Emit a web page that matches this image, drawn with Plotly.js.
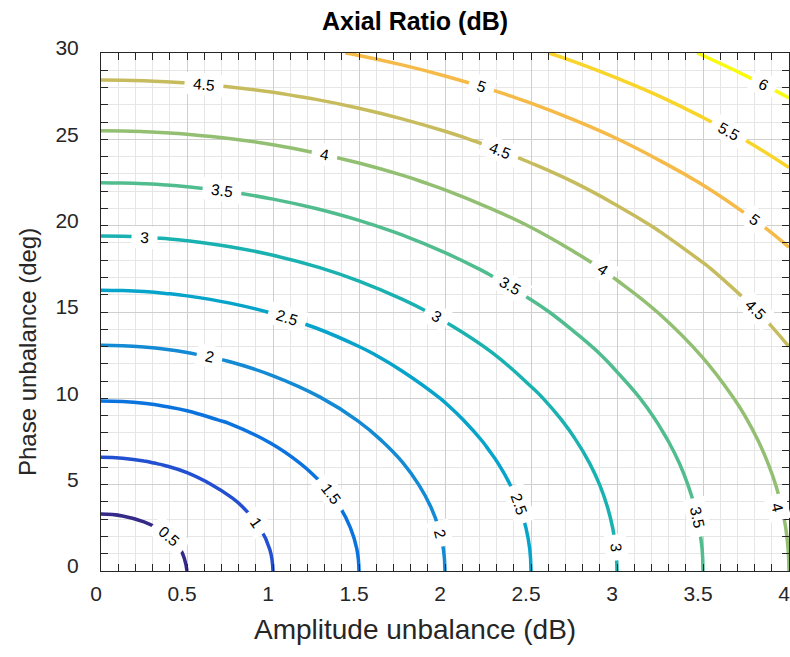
<!DOCTYPE html>
<html>
<head>
<meta charset="utf-8">
<script src="https://cdn.plot.ly/plotly-3.0.1.min.js"></script>
<style>html,body{margin:0;padding:0;background:#fff;}</style>
</head>
<body>
<div id="chart" style="width:790px;height:657px;"></div>
<script>
// Amplitude unbalance (dB) grid
const amplitudeDb = [0, 0.125, 0.25, 0.375, 0.5, 0.75, 1, 1.25, 1.5, 1.75, 2, 2.25, 2.5, 2.75, 3, 3.25, 3.5, 3.75, 4];
// Phase unbalance (deg) grid
const phaseDeg = [0, 1.25, 2.5, 3.75, 5, 6.25, 7.5, 8.75, 10, 12.5, 15, 17.5, 20, 22.5, 25, 27.5, 30];
// Axial ratio (dB), one row per phase value
const axialRatioDb = [
  [0.000, 0.125, 0.250, 0.375, 0.500, 0.750, 1.000, 1.250, 1.500, 1.750, 2.000, 2.250, 2.500, 2.750, 3.000, 3.250, 3.500, 3.750, 4.000],
  [0.190, 0.227, 0.314, 0.420, 0.535, 0.774, 1.018, 1.264, 1.512, 1.760, 2.009, 2.258, 2.507, 2.757, 3.006, 3.256, 3.505, 3.755, 4.005],
  [0.379, 0.399, 0.454, 0.533, 0.628, 0.841, 1.070, 1.307, 1.548, 1.791, 2.036, 2.282, 2.529, 2.777, 3.025, 3.273, 3.522, 3.770, 4.019],
  [0.569, 0.582, 0.621, 0.682, 0.758, 0.942, 1.151, 1.374, 1.605, 1.841, 2.081, 2.322, 2.566, 2.810, 3.056, 3.302, 3.548, 3.796, 4.043],
  [0.759, 0.769, 0.799, 0.847, 0.909, 1.068, 1.256, 1.464, 1.683, 1.910, 2.142, 2.377, 2.616, 2.856, 3.098, 3.342, 3.586, 3.831, 4.076],
  [0.949, 0.958, 0.982, 1.021, 1.073, 1.211, 1.380, 1.572, 1.778, 1.994, 2.217, 2.446, 2.679, 2.914, 3.152, 3.392, 3.633, 3.876, 4.119],
  [1.140, 1.147, 1.167, 1.201, 1.246, 1.366, 1.519, 1.695, 1.888, 2.093, 2.307, 2.528, 2.754, 2.984, 3.217, 3.453, 3.691, 3.930, 4.170],
  [1.332, 1.338, 1.355, 1.384, 1.423, 1.530, 1.668, 1.830, 2.010, 2.205, 2.409, 2.622, 2.841, 3.065, 3.293, 3.524, 3.758, 3.993, 4.231],
  [1.524, 1.529, 1.544, 1.570, 1.604, 1.700, 1.825, 1.975, 2.144, 2.327, 2.522, 2.727, 2.939, 3.156, 3.378, 3.605, 3.834, 4.066, 4.300],
  [1.910, 1.914, 1.927, 1.947, 1.976, 2.054, 2.160, 2.288, 2.436, 2.600, 2.777, 2.965, 3.162, 3.367, 3.577, 3.792, 4.012, 4.235, 4.462],
  [2.300, 2.304, 2.314, 2.332, 2.355, 2.422, 2.513, 2.625, 2.756, 2.903, 3.064, 3.236, 3.419, 3.610, 3.808, 4.013, 4.222, 4.437, 4.655],
  [2.696, 2.699, 2.708, 2.722, 2.743, 2.801, 2.881, 2.980, 3.097, 3.229, 3.376, 3.534, 3.704, 3.882, 4.069, 4.262, 4.462, 4.667, 4.876],
  [3.096, 3.098, 3.106, 3.119, 3.137, 3.189, 3.260, 3.348, 3.454, 3.574, 3.708, 3.855, 4.012, 4.179, 4.355, 4.538, 4.728, 4.923, 5.124],
  [3.502, 3.505, 3.512, 3.523, 3.540, 3.586, 3.650, 3.730, 3.826, 3.936, 4.060, 4.196, 4.342, 4.499, 4.664, 4.837, 5.018, 5.205, 5.397],
  [3.916, 3.918, 3.925, 3.935, 3.950, 3.992, 4.050, 4.124, 4.212, 4.314, 4.428, 4.555, 4.692, 4.839, 4.995, 5.159, 5.331, 5.509, 5.694],
  [4.339, 4.341, 4.347, 4.357, 4.370, 4.409, 4.462, 4.530, 4.612, 4.706, 4.813, 4.931, 5.060, 5.198, 5.346, 5.502, 5.666, 5.836, 6.013],
  [4.771, 4.773, 4.778, 4.787, 4.800, 4.836, 4.885, 4.948, 5.024, 5.112, 5.212, 5.323, 5.445, 5.576, 5.716, 5.864, 6.021, 6.184, 6.354]
];
// Contour levels and their line colours (parula)
const contourLevels = [0.5, 1, 1.5, 2, 2.5, 3, 3.5, 4, 4.5, 5, 5.5, 6];
const levelColors = ['#352a87', '#2350d0', '#0a73dd', '#138ad3', '#06a3ca', '#1ab2b1',
                     '#51bd8f', '#92bf72', '#c7bc5d', '#f5ba47', '#f9d429', '#f9fb0e'];
// Inline contour labels: level shown, and the point on that contour where it sits
const labelLevel = [0.5, 1, 1.5, 2, 2, 2.5, 2.5, 3, 3, 3, 3.5, 3.5, 3.5, 4, 4, 4, 4.5, 4.5, 4.5, 5, 5, 5.5, 6];
const labelAmp   = [0.398, 0.903, 1.336, 0.632, 1.972, 1.080, 2.428, 0.255, 1.953, 2.993, 0.702, 2.376, 3.467,
                    1.297, 2.918, 3.930, 0.601, 2.320, 3.806, 2.213, 3.800, 3.651, 3.852];
const labelPhase = [2.00, 2.83, 4.47, 12.41, 2.18, 14.67, 3.89, 19.33, 14.73, 1.34, 22.03, 16.51, 3.09,
                    24.12, 17.44, 3.65, 28.18, 24.36, 15.17, 28.06, 20.34, 25.48, 28.18];
const labelAngle = [41, 55, 53, 12.4, 75.6, 17.4, 70, 3.3, 29.2, 84, 7.6, 30.8, 78,
                    11.5, 34.5, 76, 5.2, 21, 45, 18.5, 36, 28.6, 26.5];
const xTickVals = [0, 0.5, 1, 1.5, 2, 2.5, 3, 3.5, 4];
const yTickVals = [0, 5, 10, 15, 20, 25, 30];

const FONT = 'Liberation Sans, Arial, Helvetica, sans-serif';
const colorscale = levelColors.map((c, i) => [i / (levelColors.length - 1), c]);

const trace = {
  type: 'contour',
  x: amplitudeDb,
  y: phaseDeg,
  z: axialRatioDb,
  autocontour: false,
  contours: {
    start: contourLevels[0],
    end: contourLevels[contourLevels.length - 1],
    size: contourLevels[1] - contourLevels[0],
    coloring: 'lines',
    showlabels: false
  },
  colorscale: colorscale,
  showscale: false,
  line: {width: 3.5, smoothing: 1.3},
  hoverinfo: 'skip'
};

const axisCommon = {
  showline: true,
  linecolor: '#262626',
  linewidth: 1,
  mirror: 'ticks',
  ticks: 'inside',
  ticklen: 7,
  tickwidth: 1,
  tickcolor: '#262626',
  showgrid: true,
  gridcolor: '#cfcfcf',
  gridwidth: 1,
  zeroline: false,
  ticklabeloverflow: 'allow',
  tickfont: {family: FONT, size: 21, color: '#262626'}
};

const pad = '\u2009\u2009';
const labelAnnotations = labelLevel.map((lv, i) => ({
  text: pad + String(lv) + pad,
  xref: 'x', yref: 'y',
  x: labelAmp[i], y: labelPhase[i],
  xanchor: 'center', yanchor: 'middle',
  textangle: labelAngle[i],
  showarrow: false,
  bgcolor: '#ffffff',
  borderpad: 2,
  font: {family: FONT, size: 15.5, color: '#000000'}
}));

const layout = {
  width: 790,
  height: 657,
  margin: {l: 101, r: 1, t: 53, b: 86},
  paper_bgcolor: '#ffffff',
  plot_bgcolor: '#ffffff',
  title: {
    text: 'Axial Ratio (dB)',
    font: {family: FONT, size: 25, color: '#000000', weight: 'bold'},
    xref: 'container', x: 415 / 790, xanchor: 'center',
    yref: 'container', y: 1 - 21 / 657, yanchor: 'middle'
  },
  xaxis: Object.assign({}, axisCommon, {
    range: [0, 4],
    tickmode: 'array',
    tickvals: xTickVals,
    ticktext: xTickVals.map(String),
    ticklabelstandoff: 4,
    ticklabelshift: -5,
    minor: {dtick: 0.1, tick0: 0, ticks: 'inside', ticklen: 7, tickcolor: '#262626',
            showgrid: true, gridcolor: '#e6e6e6', gridwidth: 1}
  }),
  yaxis: Object.assign({}, axisCommon, {
    range: [0, 30],
    tickmode: 'array',
    tickvals: yTickVals,
    ticktext: yTickVals.map(String),
    ticklabelstandoff: 17,
    ticklabelshift: -5,
    minor: {dtick: 1, tick0: 0, ticks: 'inside', ticklen: 7, tickcolor: '#262626',
            showgrid: true, gridcolor: '#e6e6e6', gridwidth: 1}
  }),
  annotations: labelAnnotations.concat([
    {text: 'Amplitude unbalance (dB)', xref: 'paper', yref: 'paper',
     x: (415 - 101) / 688, y: (571 - 630) / 518, xanchor: 'center', yanchor: 'middle',
     showarrow: false, font: {family: FONT, size: 28, color: '#262626'}},
    {text: 'Phase unbalance (deg)', xref: 'paper', yref: 'paper',
     x: (27 - 101) / 688, y: (571 - 352) / 518, xanchor: 'center', yanchor: 'middle',
     textangle: -90, showarrow: false, font: {family: FONT, size: 24, color: '#262626'}}
  ]),
  showlegend: false
};

Plotly.newPlot('chart', [trace], layout, {displayModeBar: false, staticPlot: true});
</script>
</body>
</html>
